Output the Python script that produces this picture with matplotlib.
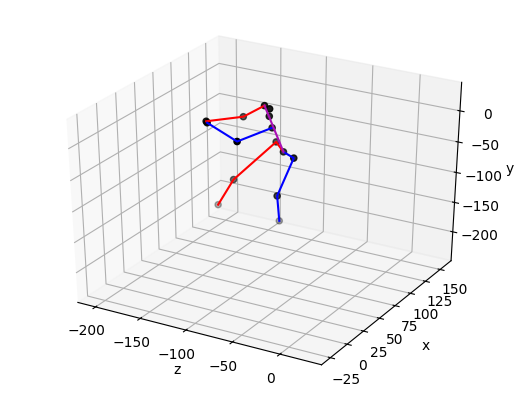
import matplotlib
matplotlib.use("Agg")
import matplotlib.pyplot as plt

# joints, values
joint_z = [-68, -83, -114, -139, -50, -60, -83, -80, -83, -79, -88, -118, -127, -87, -126]
joint_x = [60, 70, 50, 60, 50, 40, 75, 60, 60, 55, 60, 70, 30, 20, 30]
joint_y = [-25, -21, -77, -134, -22, -78, -153, 9, 26, 42, 41, 8, 25, 13, 23]

# bones as joint indices
red_bones = [[0, 1, 2, 3], [10, 11, 12]]
blue_bones = [[0, 4, 5, 6], [7, 13, 14]]
magenta_bones = [[0, 10]]

x_ticks = [-200, -150, -100, -50, 0]
y_ticks = [-25, 0, 25, 50, 75, 100, 125, 150]
z_ticks = [-200, -150, -100, -50, 0]

fig = plt.figure(figsize=(5.23, 3.96), dpi=100)
ax = fig.add_subplot(111, projection="3d")
ax.set_box_aspect((4, 4, 3.85), zoom=1.07)
# stretch axes to the box, no square
ax.apply_aspect = lambda position=None: None
ax.set_position([(262 - 218) / 523, (198 - 168) / 396, 436 / 523, 336 / 396])
ax.computed_zorder = False

ax.scatter(joint_z, joint_x, joint_y, c="k")


def draw(bones, color):
    for b in bones:
        ax.plot([joint_z[i] for i in b], [joint_x[i] for i in b], [joint_y[i] for i in b], color=color)


draw(red_bones, "r")
draw(blue_bones, "b")
draw(magenta_bones, "#aa10b4")

ax.set_xlim(-220, 43)
ax.set_ylim(-38, 169)
ax.set_zlim(-250, 45)
ax.set_xticks(x_ticks)
ax.set_yticks(y_ticks)
ax.set_zticks(z_ticks)
ax.tick_params(axis="x", pad=1)
ax.tick_params(axis="y", pad=1)
ax.tick_params(axis="z", pad=2.5)
ax.set_xlabel("z", labelpad=-2)
ax.set_ylabel("x", labelpad=1)
ax.set_zlabel("y", labelpad=0)
fig.savefig("out.png", dpi=100)
